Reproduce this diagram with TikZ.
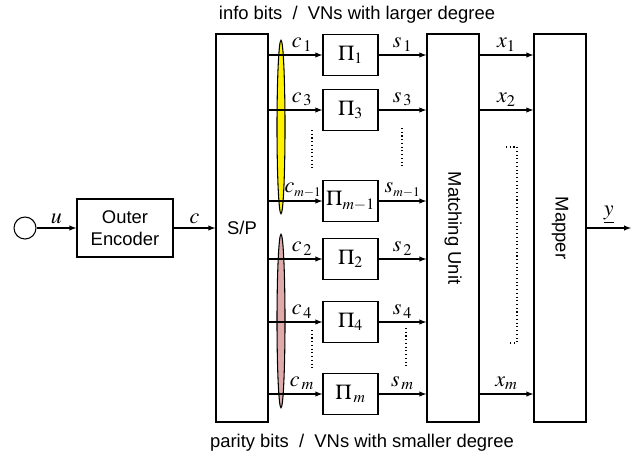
\documentclass[tikz,border=0pt]{standalone}
\usepackage{mathptmx}
\usepackage{fontspec}
\setmainfont{Liberation Sans}
\usetikzlibrary{positioning, arrows}

\begin{document}
\begin{tikzpicture}[x=0.75pt,y=-0.75pt,>=latex,auto,node distance=41.25pt,on grid,
    every node/.style={font=\fontsize{13.8}{16}\selectfont},
    blk/.style={draw,line width=1pt,minimum width=39pt,minimum height=291pt,inner sep=0pt},
    perm/.style={draw,line width=1pt,minimum width=41.25pt,minimum height=31pt,inner sep=0pt,font=\fontsize{16}{18}\selectfont},
    lab/.style={font=\fontsize{16.5}{18}\selectfont,inner sep=2.5pt},
    dots/.style={dotted,line width=0.8pt}]
      \useasboundingbox (0,0) rectangle (641,458);
      \node[circle,draw,line width=0.8pt,minimum size=16.5pt,inner sep=0pt] (src) at (25,228) {};
      \node[draw,line width=1pt,minimum width=72pt,minimum height=43.5pt,align=center] (enc) at (125,228) {Outer\\Encoder};
      \node[blk] (sp)  at (242,228) {S/P};
      \node[blk] (mu)  at (453,228) {\rotatebox{-90}{Matching Unit}};
      \node[blk] (map) at (560,228) {\rotatebox{-90}{Mapper}};
      \coordinate (out) at (631,228);

      \node[perm] (pi1) at (350.5,55) {$\Pi_1$};
      \node[perm] (pi3) [below=of pi1] {$\Pi_3$};
      \node[perm] (pim1) at (350.5,201) {$\Pi_{m-1}$};
      \node[perm] (pi2) at (350.5,259) {$\Pi_2$};
      \node[perm] (pi4) at (350.5,322) {$\Pi_4$};
      \node[perm] (pim) at (350.5,394) {$\Pi_{\,m}$};

      \node (info) at (357,15) {info bits \ / \ VNs with larger degree};
      \node (par) at (362,443) {parity bits \ / \ VNs with smaller degree};

      % groups
      \draw[line width=0.8pt,fill=yellow] (281,127) ellipse [x radius=3pt, y radius=65pt];
      \draw[line width=0.8pt,fill={rgb,255:red,222;green,170;blue,170}] (281,321) ellipse [x radius=3pt, y radius=65pt];

        \path[->,line width=0.8pt,every node/.style={lab}]
        (src) edge node {$u$} (enc)
        (enc) edge node {$c$} (sp)
        (sp.east |- pi1) edge node[pos=0.62] {$c_{\,1}$} (pi1)
        (sp.east |- pi3) edge node[pos=0.62] {$c_{\,3}$} (pi3)
        (sp.east |- pim1) edge node[pos=0.64] {$c_{\scriptscriptstyle m-1}$} (pim1)
        (sp.east |- pi2) edge node[pos=0.62] {$c_{\,2}$} (pi2)
        (sp.east |- pi4) edge node[pos=0.62] {$c_{\,4}$} (pi4)
        (sp.east |- pim) edge node[pos=0.62] {$c_{\,m}$} (pim)
        (pi1) edge node {$s_{\,1}$} (mu.west |- pi1)
        (pi3) edge node {$s_{\,3}$} (mu.west |- pi3)
        (pim1) edge node {$s_{\scriptscriptstyle m-1}$} (mu.west |- pim1)
        (pi2) edge node {$s_{\,2}$} (mu.west |- pi2)
        (pi4) edge node {$s_{\,4}$} (mu.west |- pi4)
        (pim) edge node {$s_{\,m}$} (mu.west |- pim)
        (mu.east |- pi1) edge node {$x_1$} (map.west |- pi1)
        (mu.east |- pi3) edge node {$x_2$} (map.west |- pi3)
        (mu.east |- pim) edge node {$x_m$} (map.west |- pim)
        (map) edge node {$\underline{y}$} (out);

      \draw[dots] (312,130) -- (312,168);
      \draw[dots] (402,128) -- (402,167);
      \draw[dots] (312,330) -- (312,370);
      \draw[dots] (406,328) -- (406,368);
      \draw[dots] (506,147) -- (517,147) -- (517,343) -- (509,343);
    \end{tikzpicture}
\end{document}
